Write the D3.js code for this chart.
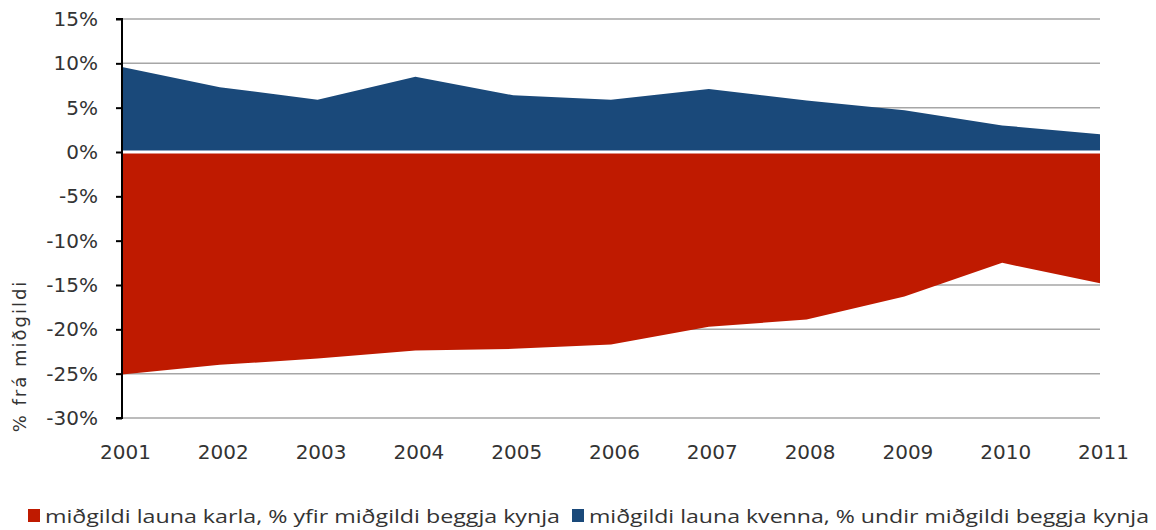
<!DOCTYPE html>
<html><head><meta charset="utf-8">
<script src="https://cdn.jsdelivr.net/npm/d3@7/dist/d3.min.js"></script>
<style>body{margin:0;background:#fff}svg{display:block}</style>
</head><body>
<svg id="c" width="1156" height="530"></svg>
<script>
const years = ["2001","2002","2003","2004","2005","2006","2007","2008","2009","2010","2011"];
const karla = [-25.1,-24.0,-23.3,-22.4,-22.2,-21.7,-19.7,-18.9,-16.3,-12.5,-14.8];
const kvenna = [9.6,7.3,5.9,8.5,6.4,5.9,7.1,5.8,4.7,3.0,2.0];
const yTicks = [15,10,5,0,-5,-10,-15,-20,-25,-30];
const legendLabels = ["miðgildi launa karla, % yfir miðgildi beggja kynja","miðgildi launa kvenna, % undir miðgildi beggja kynja"];
const colors = ["#BF1A00","#1A497A"];

const svg = d3.select("#c");
const L=122,R=1100,T=19,B=418;
const x = d3.scalePoint().domain(years).range([L,R]);
const y = d3.scaleLinear().domain([-30,15]).range([B,T]);

// gridlines
svg.append("g").selectAll("line").data(yTicks).join("line")
  .attr("x1",L).attr("x2",R).attr("y1",d=>y(d)).attr("y2",d=>y(d))
  .attr("stroke","#a6a6a6").attr("stroke-width",1.5);

const area = d3.area().x((d,i)=>x(years[i])).y0(y(0)).y1(d=>y(d));
svg.append("path").datum(karla).attr("d",area).attr("fill",colors[0]);
svg.append("path").datum(kvenna).attr("d",area).attr("fill",colors[1]);
svg.append("line").attr("x1",L).attr("x2",R).attr("y1",y(0)).attr("y2",y(0))
  .attr("stroke","#fff").attr("stroke-width",3);

// y axis
const ya = svg.append("g").attr("transform",`translate(${L},0)`)
  .call(d3.axisLeft(y).tickValues(yTicks).tickSize(6).tickPadding(18).tickFormat(d=>d+"%"));
ya.select(".domain").attr("stroke","#000").attr("stroke-width",2).attr("d",`M-6,${T}H0V${B}H-6`);
ya.selectAll(".tick line").attr("stroke","#000").attr("stroke-width",2);
ya.selectAll("text").attr("font-family","DejaVu Sans").attr("font-size",20).attr("fill","#333");

// x axis labels
const xa = svg.append("g").attr("transform",`translate(0,${B})`)
  .call(d3.axisBottom(x).tickSize(0).tickPadding(27));
xa.select(".domain").remove();
xa.selectAll("text").attr("font-family","DejaVu Sans").attr("font-size",20).attr("fill","#333")
  .attr("dx",3);

// y title
svg.append("text").attr("transform","translate(26,356) rotate(-90)")
  .attr("text-anchor","middle").attr("font-family","DejaVu Sans").attr("font-size",18)
  .attr("fill","#333").attr("letter-spacing",2).text("% frá miðgildi");

// legend
const lg = [{x:28,tx:45,w:515},{x:572,tx:589,w:560}];
lg.forEach((p,i)=>{
  svg.append("rect").attr("x",p.x).attr("y",509).attr("width",12).attr("height",13).attr("fill",colors[i]);
  svg.append("text").attr("x",p.tx).attr("y",523).attr("font-family","Open Sans").attr("font-size",18)
    .attr("fill","#333").attr("textLength",p.w).attr("lengthAdjust","spacingAndGlyphs").text(legendLabels[i]);
});
</script>
</body></html>
